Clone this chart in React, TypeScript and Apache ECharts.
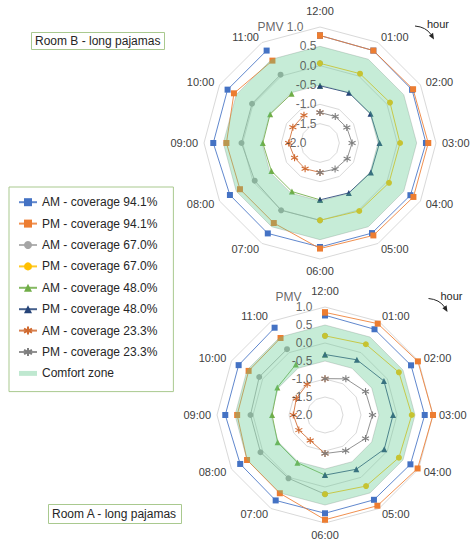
import React, { useEffect, useRef } from 'react';
import * as echarts from 'echarts';

// ---------- data ----------
const hours = ['12:00', '01:00', '02:00', '03:00', '04:00', '05:00', '06:00', '07:00', '08:00', '09:00', '10:00', '11:00'];
const pmvTicks = [-2.0, -1.5, -1.0, -0.5, 0.0, 0.5, 1.0];
const pmvMin = -2.0;
const pmvMax = 1.0;
const pmvStep = 0.5;

const seriesNames = [
  'AM - coverage 94.1%', 'PM - coverage 94.1%',
  'AM - coverage 67.0%', 'PM - coverage 67.0%',
  'AM - coverage 48.0%', 'PM - coverage 48.0%',
  'AM - coverage 23.3%', 'PM - coverage 23.3%',
];
const comfortName = 'Comfort zone';
const comfortUpper = [0.5, 0.5, 0.5, 0.5, 0.5, 0.5, 0.5, 0.5, 0.5, 0.5, 0.5, 0.5];
const comfortLower = [-0.5, -0.5, -0.5, -0.5, -0.5, -0.5, -0.5, -0.5, -0.5, -0.5, -0.5, -0.5];

const N = null;
// Room B (top chart)
const roomB_AM941 = [0.78, 0.76, 0.75, 0.74, 0.70, 0.69, 0.69, 0.70, 0.69, 0.76, 0.76, 0.76];
const roomB_PM941 = [0.78, 0.76, 0.78, 0.80, 0.79, 0.76, 0.73, 0.39, 0.39, 0.42, 0.57, 0.46];
const roomB_AM670 = [0.06, N, N, N, N, N, 0.00, 0.01, -0.05, 0.03, 0.03, 0.04];
const roomB_PM670 = [0.06, 0.07, 0.09, 0.07, 0.06, 0.03, 0.00, N, N, N, N, N];
const roomB_AM480 = [-0.52, N, N, N, N, N, -0.53, -0.55, -0.55, -0.52, -0.51, -0.53];
const roomB_PM480 = [-0.52, -0.50, -0.49, -0.46, -0.48, -0.51, -0.53, N, N, N, N, N];
const roomB_AM233 = [-1.21, N, N, N, N, N, -1.24, -1.23, -1.24, -1.19, -1.19, -1.17];
const roomB_PM233 = [-1.21, -1.21, -1.20, -1.17, -1.19, -1.22, -1.24, N, N, N, N, N];

// Room A (bottom chart)
const roomA_AM941 = [0.77, 0.75, 0.76, 0.77, 0.74, 0.72, 0.73, 0.74, 0.72, 0.77, 0.77, 0.80];
const roomA_PM941 = [0.85, 0.93, 0.98, 1.00, 0.97, 0.91, 0.91, 0.51, 0.50, 0.44, 0.45, 0.47];
const roomA_AM670 = [0.20, N, N, N, N, N, 0.20, 0.03, 0.07, 0.07, 0.11, 0.11];
const roomA_PM670 = [0.20, 0.27, 0.37, 0.41, 0.37, 0.28, 0.20, N, N, N, N, N];
const roomA_AM480 = [-0.32, N, N, N, N, N, -0.33, -0.47, -0.48, -0.53, -0.47, -0.38];
const roomA_PM480 = [-0.32, -0.23, -0.11, -0.11, -0.10, -0.26, -0.33, N, N, N, N, N];
const roomA_AM233 = [-0.99, N, N, N, N, N, -0.93, -1.18, -1.16, -1.12, -1.08, -1.01];
const roomA_PM233 = [-0.99, -0.84, -0.70, -0.68, -0.70, -0.85, -0.93, N, N, N, N, N];

const roomB = [roomB_AM941, roomB_PM941, roomB_AM670, roomB_PM670, roomB_AM480, roomB_PM480, roomB_AM233, roomB_PM233];
const roomA = [roomA_AM941, roomA_PM941, roomA_AM670, roomA_PM670, roomA_AM480, roomA_PM480, roomA_AM233, roomA_PM233];

// ---------- styles ----------
const FONT = "'Liberation Sans', Arial, sans-serif";
const ASTER = 'path://M5,0L5,10M0.67,2.5L9.33,7.5M9.33,2.5L0.67,7.5';
const fullOrder = [0, 1, 2, 3, 4, 5, 6, 7, 8, 9, 10, 11, 0];
const amOrder = [6, 7, 8, 9, 10, 11, 0];
const pmOrder = [0, 1, 2, 3, 4, 5, 6];
const seriesStyle = [
  { color: '#4472C4', symbol: 'rect', order: fullOrder },
  { color: '#ED7D31', symbol: 'rect', order: fullOrder },
  { color: '#A5A5A5', symbol: 'circle', order: amOrder },
  { color: '#FFC000', symbol: 'circle', order: pmOrder },
  { color: '#70AD47', symbol: 'triangle', order: amOrder },
  { color: '#264478', symbol: 'triangle', order: pmOrder },
  { color: '#D06A30', symbol: ASTER, order: amOrder },
  { color: '#7F7F7F', symbol: ASTER, order: pmOrder },
];
const ZONE_FILL = 'rgba(92,201,141,0.35)';
const GRID = '#D9D9D9';
const BOX = '#A9C98F';
const TXT = '#404040';

// label placement per chart (distance of tick label from the 12:00 spoke)
const charts = [
  { center: [320, 143], radius: 116, values: roomB, dist: 3, maxDist: 16, minDist: 13, pmvInline: true },
  { center: [325, 415], radius: 108, values: roomA, dist: 12, maxDist: 12, minDist: 12, pmvInline: false },
];

function toPoints(vals: (number | null)[], order: number[]) {
  return order.filter((i) => vals[i] != null).map((i) => [vals[i], i]);
}

function buildOption() {
  const polar: any[] = [];
  const angleAxis: any[] = [];
  const radiusAxis: any[] = [];
  const radar: any[] = [];
  const series: any[] = [];

  charts.forEach((c, k) => {
    polar.push({ center: c.center, radius: c.radius });
    angleAxis.push({
      polarIndex: k, type: 'category', data: hours, startAngle: 90, clockwise: true, boundaryGap: false,
      axisLine: { show: false }, axisTick: { show: false }, axisLabel: { show: false }, splitLine: { show: false },
    });
    radiusAxis.push({
      polarIndex: k, type: 'value', min: pmvMin, max: pmvMax, interval: pmvStep,
      axisLine: { show: false }, axisTick: { show: false }, splitLine: { show: false }, axisLabel: { show: false },
    });
    const indicator = [hours[0]].concat(hours.slice(1).reverse()).map((h) => ({ name: h, min: pmvMin, max: pmvMax }));
    radar.push({
      center: c.center, radius: c.radius, startAngle: 90, shape: 'polygon', splitNumber: 6, indicator,
      nameGap: 6,
      axisName: {
        color: TXT, fontSize: 11, fontFamily: FONT,
        formatter: (name: string) => (name === '12:00' ? '{t|' + name + '}' : name),
        rich: { t: { padding: [0, 0, 5, 0], color: TXT, fontSize: 11, fontFamily: FONT } },
      },
      axisLine: { show: false }, axisTick: { show: false }, axisLabel: { show: false },
      splitArea: { show: false },
      splitLine: { lineStyle: { color: GRID, width: 1 } },
    });

    c.values.forEach((vals, s) => {
      const st = seriesStyle[s];
      const aster = st.symbol === ASTER;
      series.push({
        type: 'line', name: seriesNames[s], coordinateSystem: 'polar', polarIndex: k,
        data: toPoints(vals, st.order), symbol: st.symbol, symbolSize: aster ? 7 : 6,
        showSymbol: true, showAllSymbol: true, clip: false, silent: true, z: 3,
        color: st.color,
        lineStyle: { color: st.color, width: 1, opacity: 0.85 },
        itemStyle: aster ? { color: st.color, borderColor: st.color, borderWidth: 1.1 } : { color: st.color },
      });
    });

    series.push({
      type: 'custom', name: comfortName, coordinateSystem: 'polar', polarIndex: k, z: 5, silent: true,
      color: '#BFE8D0',
      data: [[0, 0]],
      renderItem: (_params: any, api: any) => {
        const outer = hours.map((_, i) => api.coord([comfortUpper[i], i]));
        const inner = hours.map((_, i) => api.coord([comfortLower[i], i])).reverse();
        const seg = (pts: number[][]) => 'M' + pts.map((p) => p[0].toFixed(2) + ',' + p[1].toFixed(2)).join('L') + 'Z';
        return { type: 'path', shape: { pathData: seg(outer) + seg(inner) }, style: { fill: ZONE_FILL, stroke: 'none' } };
      },
    });

    // PMV tick labels along the 12:00 spoke
    const tickData: any[] = pmvTicks.map((v) => {
      const t = v.toFixed(1);
      let text = t;
      let distance = c.dist;
      if (v === pmvMax) { distance = c.maxDist; if (c.pmvInline) text = 'PMV ' + t; }
      if (v === pmvMin) distance = c.minDist;
      return { value: [v, 0], label: { formatter: text, distance } };
    });
    if (!c.pmvInline) {
      tickData.push({ value: [pmvMax, 0], label: { formatter: '{p|PMV}', distance: 23 } });
    }
    series.push({
      type: 'scatter', name: 'PMV axis', coordinateSystem: 'polar', polarIndex: k, z: 10, silent: true,
      symbol: 'circle', symbolSize: 1, itemStyle: { color: 'rgba(0,0,0,0)' }, clip: false,
      data: tickData,
      label: {
        show: true, position: 'left', color: TXT, fontSize: 12, fontFamily: FONT,
        rich: { p: { padding: [0, 0, 21, 0], color: TXT, fontSize: 12, fontFamily: FONT } },
      },
      labelLayout: { hideOverlap: false },
    });
  });

  const arrow = (dx: number, dy: number) => ({
    type: 'group', x: dx, y: dy, silent: true,
    children: [
      { type: 'text', x: 427, y: 23.5, style: { text: 'hour', fontSize: 11, fontFamily: FONT, fill: '#262626', verticalAlign: 'middle' } },
      { type: 'bezierCurve', shape: { x1: 415, y1: 26, cpx1: 426, cpy1: 27, x2: 431, y2: 34.5 }, style: { stroke: '#262626', lineWidth: 1, fill: 'none' } },
      { type: 'polygon', shape: { points: [[434, 39.5], [428.9, 35.8], [433.1, 32.8]] }, style: { fill: '#262626' } },
    ],
  });

  return {
    animation: false,
    backgroundColor: '#ffffff',
    title: [
      {
        text: 'Room B - long pajamas', left: 31, top: 32, padding: [3, 4, 3, 4], borderColor: BOX, borderWidth: 1,
        textStyle: { fontSize: 12, fontWeight: 'normal', color: '#262626', fontFamily: FONT, lineHeight: 12 },
      },
      {
        text: 'Room A - long pajamas', left: 48, top: 504, padding: [4, 4, 4, 4], borderColor: BOX, borderWidth: 1,
        textStyle: { fontSize: 12, fontWeight: 'normal', color: '#262626', fontFamily: FONT, lineHeight: 12 },
      },
    ],
    legend: {
      orient: 'vertical', left: 9, top: 187, selectedMode: false,
      data: [...seriesNames, { name: comfortName, icon: 'path://M0,0H40V11H0Z', itemStyle: { color: '#BFE8D0' } }],
      itemWidth: 18, itemHeight: 10, itemGap: 7,
      padding: [8, 16, 11, 9], borderColor: BOX, borderWidth: 1,
      textStyle: { fontFamily: FONT, fontSize: 12, color: '#262626', lineHeight: 14.4 },
    },
    polar, angleAxis, radiusAxis, radar, series,
    graphic: [arrow(0, 0), arrow(13.5, 272.5)],
  };
}

export default function App() {
  const ref = useRef<HTMLDivElement>(null);
  useEffect(() => {
    if (!ref.current) return;
    const chart = echarts.init(ref.current, undefined, { renderer: 'svg' });
    chart.setOption(buildOption() as any);
    return () => chart.dispose();
  }, []);
  return <div ref={ref} style={{ position: 'fixed', left: 0, top: 0, width: 476, height: 550 }} />;
}
